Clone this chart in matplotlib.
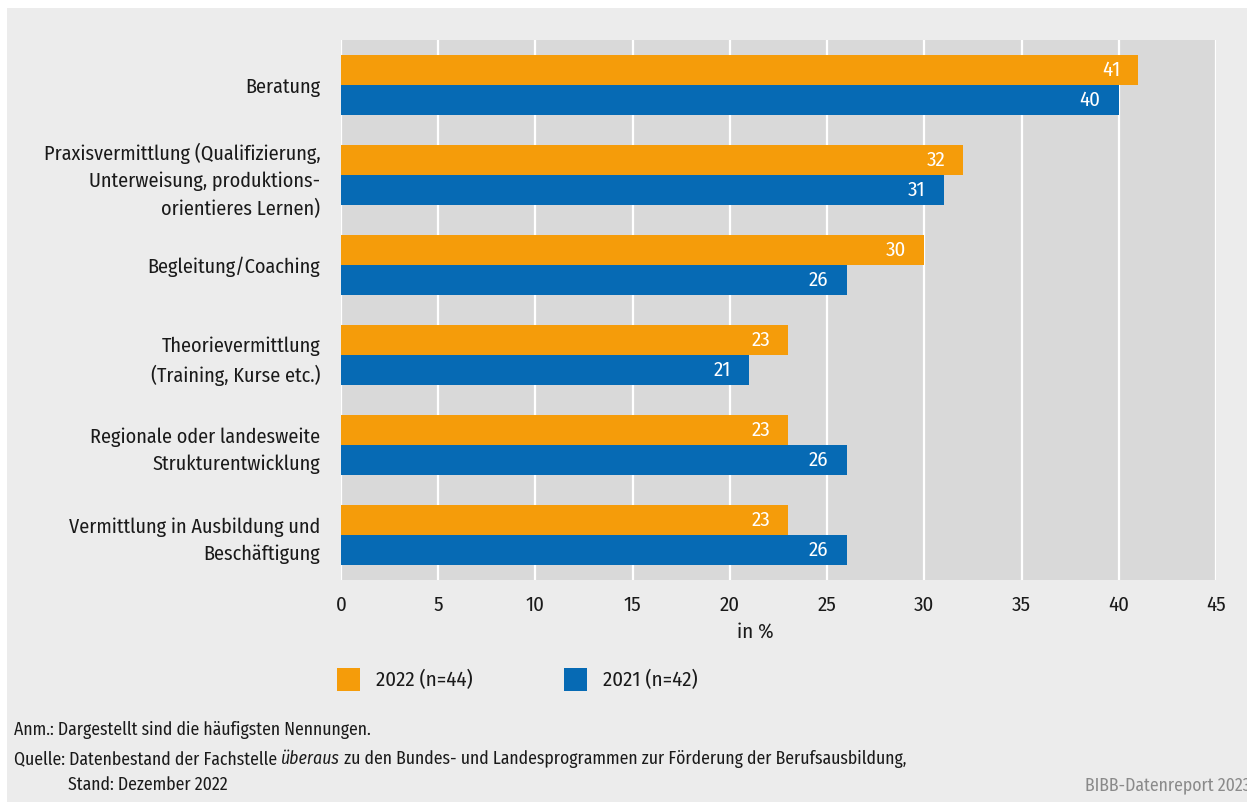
import matplotlib.pyplot as plt
from matplotlib.patches import Rectangle
import numpy as np

plt.rcParams['font.family'] = ['Fira Sans Condensed', 'DejaVu Sans']

categories = ['Beratung',
              'Praxisvermittlung (Qualifizierung,\nUnterweisung, produktions-\norientieres Lernen)',
              'Begleitung/Coaching',
              'Theorievermittlung\n(Training, Kurse etc.)',
              'Regionale oder landesweite\nStrukturentwicklung',
              'Vermittlung in Ausbildung und\nBeschäftigung']
values_2022 = [41, 32, 30, 23, 23, 23]
values_2021 = [40, 31, 26, 21, 26, 26]
series_labels = ['2022 (n=44)', '2021 (n=42)']
x_ticks = [0, 5, 10, 15, 20, 25, 30, 35, 40, 45]

orange = '#f59c0a'
blue = '#066ab4'
bg = '#ececec'
plot_bg = '#d9d9d9'
txt = '#1a1a1a'

fig = plt.figure(figsize=(12.47, 8.02), dpi=100)
fig.patch.set_facecolor('white')
# gray panel with thin white margin on top/left
fig.patches.append(Rectangle((7 / 1247, 0), 1, 1 - 8 / 802, transform=fig.transFigure,
                             facecolor=bg, edgecolor='none', zorder=-10))

ax = fig.add_axes([341 / 1247, 1 - 580 / 802, (1216 - 341) / 1247, 540 / 802])
ax.set_facecolor(plot_bg)

y = np.arange(len(categories))
h = 1 / 3
bars_a = ax.barh(y - h / 2, values_2022, height=h, color=orange, zorder=3)
bars_b = ax.barh(y + h / 2, values_2021, height=h, color=blue, zorder=3)

for bars in (bars_a, bars_b):
    for b in bars:
        w = b.get_width()
        ax.annotate(str(int(w)), (w, b.get_y() + b.get_height() / 2),
                    xytext=(-13, 0), textcoords='offset points',
                    ha='right', va='center', color='white', fontsize=15, zorder=4)

ax.set_xlim(0, 45)
ax.set_ylim(len(categories) - 0.5, -0.5)
ax.set_xticks(x_ticks)
ax.set_yticks(y)
ax.set_yticklabels(categories, fontsize=14.5, linespacing=1.5)
ax.tick_params(axis='both', length=0, colors=txt)
ax.tick_params(axis='x', labelsize=15, pad=11)
ax.tick_params(axis='y', pad=15)
ax.grid(axis='x', color='white', linewidth=1.6, zorder=1)
for s in ax.spines.values():
    s.set_visible(False)

fig.text(755 / 1247, 1 - 632 / 802, 'in %', ha='center', va='center', fontsize=15, color=txt)

# legend
for (x0, lab, col) in [(337, series_labels[0], orange), (564, series_labels[1], blue)]:
    fig.patches.append(Rectangle((x0 / 1247, 1 - 691 / 802), 23 / 1247, 23 / 802,
                                 transform=fig.transFigure, facecolor=col, edgecolor='none'))
    fig.text((x0 + 39) / 1247, 1 - 680 / 802, lab, ha='left', va='center', fontsize=15, color=txt)

# footer
fs = 12.75
fig.text(14 / 1247, 1 - 730 / 802, 'Anm.: Dargestellt sind die häufigsten Nennungen.',
         ha='left', va='center', fontsize=fs, color=txt)
renderer = fig.canvas.get_renderer()
t1 = fig.text(14 / 1247, 1 - 759 / 802, 'Quelle: Datenbestand der Fachstelle ',
              ha='left', va='center', fontsize=fs, color=txt)
bb = t1.get_window_extent(renderer)
t2 = fig.text(bb.x1 / 1247, 1 - 759 / 802, 'überaus', style='italic',
              ha='left', va='center', fontsize=fs, color=txt)
bb2 = t2.get_window_extent(renderer)
fig.text(bb2.x1 / 1247, 1 - 759 / 802,
         ' zu den Bundes- und Landesprogrammen zur Förderung der Berufsausbildung,',
         ha='left', va='center', fontsize=fs, color=txt)
fig.text(68 / 1247, 1 - 785 / 802, 'Stand: Dezember 2022',
         ha='left', va='center', fontsize=fs, color=txt)
fig.text(1 + 4 / 1247, 1 - 785 / 802, 'BIBB-Datenreport 2023',
         ha='right', va='center', fontsize=fs, color='#8a8a8a')

fig.savefig('out.png', dpi=100, facecolor=fig.get_facecolor())
